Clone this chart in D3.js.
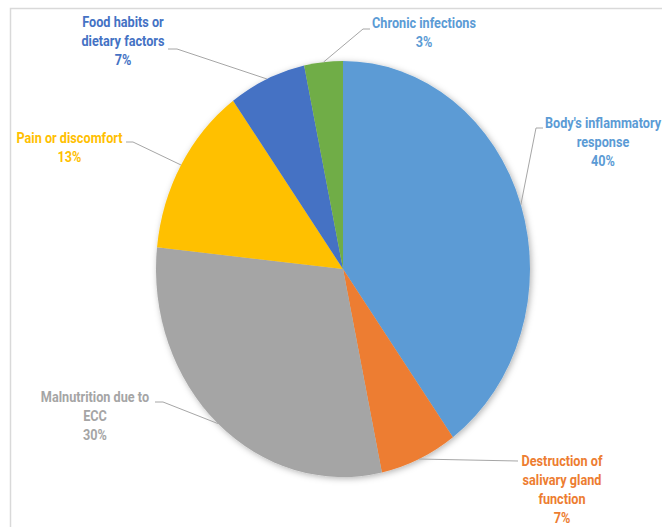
<!DOCTYPE html>
<html>
<head>
<meta charset="utf-8">
<script src="https://cdn.jsdelivr.net/npm/d3@7"></script>
<style>
  html, body { margin: 0; padding: 0; background: #fff; }
  svg { display: block; }
  .lbl { font-family: "Liberation Sans Narrow", Roboto, "Liberation Sans", sans-serif; font-weight: bold; }
</style>
</head>
<body>
<svg id="chart" width="662" height="527"></svg>
<script>
// counts behind the percentages (30 responses)
const categories = [
  "Body's inflammatory response",
  "Destruction of salivary gland function",
  "Malnutrition due to ECC",
  "Pain or discomfort",
  "Food habits or dietary factors",
  "Chronic infections",
];
const counts = [12, 2, 9, 4, 2, 1];
const percentLabels = ["40%", "7%", "30%", "13%", "7%", "3%"];
const labelLines = [
  ["Body's inflammatory", "response"],
  ["Destruction of", "salivary gland", "function"],
  ["Malnutrition due to", "ECC"],
  ["Pain or discomfort"],
  ["Food habits or", "dietary factors"],
  ["Chronic infections"],
];
const colors = ["#5b9bd5", "#ed7d31", "#a5a5a5", "#ffc000", "#4472c4", "#70ad47"];
// the last label is drawn in light blue in the original
const labelColors = ["#5b9bd5", "#ed7d31", "#a5a5a5", "#ffc000", "#4472c4", "#5b9bd5"];

// label placement: text centre, first line middle, leader elbow and end
const labelLayout = [
  { cx: 603, y: 123, elbow: [536, 128], end: [543, 128] },
  { cx: 562, y: 461, elbow: [518, 461], end: [518, 461] },
  { cx: 95, y: 397, elbow: [163, 402], end: [155, 402] },
  { cx: 69.5, y: 138, elbow: [133, 142], end: [126, 142] },
  { cx: 123, y: 22, elbow: [177, 49], end: [168, 49] },
  { cx: 424, y: 23, elbow: [363, 29], end: [370, 29] },
];

const svg = d3.select("#chart");
const cx = 343, cy = 269;
const rx = 187, ry = 208; // picture is stretched vertically
const lineH = 19;
const fontSize = 14.5;

// chart frame
svg.append("rect")
  .attr("x", 10.5).attr("y", 8.5)
  .attr("width", 700).attr("height", 600)
  .attr("fill", "none")
  .attr("stroke", "#d9d9d9")
  .attr("stroke-width", 1.5);

const defs = svg.append("defs");
const f = defs.append("filter").attr("id", "shadow")
  .attr("x", "-10%").attr("y", "-10%").attr("width", "120%").attr("height", "120%");
f.append("feDropShadow")
  .attr("dx", 1.5).attr("dy", 1.5)
  .attr("stdDeviation", 3)
  .attr("flood-color", "#000")
  .attr("flood-opacity", 0.3);

const pie = d3.pie().sort(null).value((d) => d)(counts);
const arc = d3.arc().innerRadius(0).outerRadius(rx);

svg.append("g")
  .attr("filter", "url(#shadow)")
  .append("g")
  .attr("transform", `translate(${cx},${cy}) scale(1,${ry / rx})`)
  .selectAll("path")
  .data(pie)
  .join("path")
  .attr("d", arc)
  .attr("fill", (d, i) => colors[i]);

// leader lines from the slice edge (mid angle) to the label
const edgePoint = (d) => {
  const a = (d.startAngle + d.endAngle) / 2;
  return [cx + rx * Math.sin(a), cy - ry * Math.cos(a)];
};

svg.append("g")
  .selectAll("polyline")
  .data(pie)
  .join("polyline")
  .attr("points", (d, i) => {
    const p = edgePoint(d);
    const L = labelLayout[i];
    return [p, L.elbow, L.end].map((q) => q.join(",")).join(" ");
  })
  .attr("fill", "none")
  .attr("stroke", "#a6a6a6")
  .attr("stroke-width", 1);

// squeeze text horizontally so "Chronic infections" is ~104px wide, like Calibri
const probe = svg.append("text").attr("class", "lbl").attr("font-size", fontSize).text("Chronic infections");
const w = probe.node().getComputedTextLength();
probe.remove();
const sx = w > 0 ? Math.min(1, 104 / w) : 1;

const labels = svg.append("g")
  .selectAll("text")
  .data(pie)
  .join("text")
  .attr("class", "lbl")
  .attr("font-size", fontSize)
  .attr("text-anchor", "middle")
  .attr("fill", (d, i) => labelColors[i])
  .attr("transform", (d, i) => {
    const x = labelLayout[i].cx;
    return `translate(${x},0) scale(${sx},1) translate(${-x},0)`;
  });

labels.each(function (d, i) {
  const L = labelLayout[i];
  const lines = labelLines[i].concat([percentLabels[i]]);
  d3.select(this)
    .selectAll("tspan")
    .data(lines)
    .join("tspan")
    .attr("x", L.cx)
    .attr("y", (t, j) => L.y + j * lineH + fontSize * 0.36)
    .text((t) => t);
});
</script>
</body>
</html>
